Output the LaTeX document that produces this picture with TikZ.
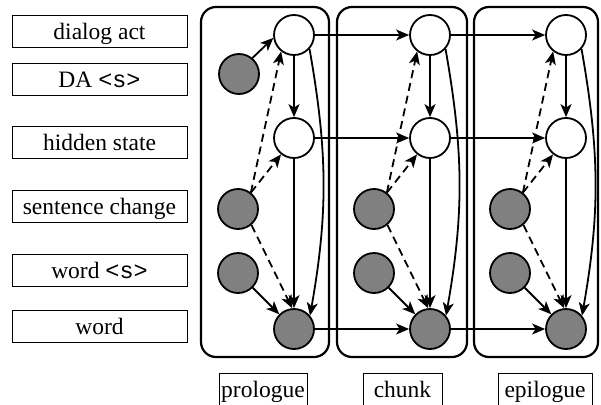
\documentclass[tikz,border=0pt]{standalone}
\usepackage{fontspec}
\setmainfont{Liberation Serif}
\setmonofont{Liberation Mono}
\usetikzlibrary{arrows.meta}
\begin{document}
\begin{tikzpicture}[x=1pt,y=-1pt,
 lab/.style={draw, line width=0.9pt, minimum width=175pt, minimum height=32pt, inner sep=0pt,
   text height=20pt, text depth=4pt, font=\fontsize{23.5}{26}\selectfont},
 obs/.style={circle, draw, line width=1.8pt, fill=gray, minimum size=40pt, inner sep=0pt},
 hid/.style={obs, fill=white},
 plate/.style={draw, line width=2.2pt, rounded corners=15pt, inner sep=0pt},
 arr/.style={-{Stealth[length=13pt,width=11pt,inset=3.5pt]}, line width=1.8pt},
 dsh/.style={arr, dash pattern=on 8pt off 5pt},
]
\useasboundingbox (0,0) rectangle (601,404);
\clip (0,0) rectangle (601,404);
% left labels
\node[lab] (l1) at (99.5,31) {dialog act};
\node[lab] (l2) at (99.5,79) {DA \texttt{<s>}};
\node[lab] (l3) at (99.5,142.5) {hidden state};
\node[lab] (l4) at (99.5,206.5) {sentence change};
\node[lab] (l5) at (99.5,270) {word \texttt{<s>}};
\node[lab] (l6) at (99.5,326) {word};
% bottom labels
\node[lab, minimum width=88pt] (bp) at (263,389) {prologue};
\node[lab, minimum width=79pt] (bc) at (402.5,389) {chunk};
\node[lab, minimum width=94pt] (be) at (545,389) {epilogue};
% plates
\node[plate, minimum width=128pt, minimum height=350pt] (pp) at (265,182) {};
\node[plate, minimum width=130pt, minimum height=350pt] (pc) at (402,182) {};
\node[plate, minimum width=124pt, minimum height=350pt] (pe) at (536,182) {};
% nodes
\node[obs] (da) at (239,74) {};
\foreach \c/\dx in {p/0, c/136, e/272}{
  \node[hid] (t\c) at (294+\dx,35) {};
  \node[hid] (h\c) at (294+\dx,138) {};
  \node[obs] (s\c) at (238+\dx,209) {};
  \node[obs] (ws\c) at (238+\dx,273) {};
  \node[obs] (w\c) at (294+\dx,329) {};
  \draw[arr] (t\c) -- (h\c);
  \draw[arr] (h\c) -- (w\c);
  \draw[arr] (t\c.-42) to[out=-80,in=80] (w\c.40);
  \draw[dsh] (s\c) -- (h\c);
  \draw[dsh] (s\c.52) -- (t\c.-128);
  \draw[dsh] (s\c.-50) -- (w\c.95);
  \draw[arr] (ws\c) -- (w\c);
}
\draw[arr] (da.50) -- (tp.188);
\draw[arr] (tp) -- (tc);
\draw[arr] (tc) -- (te);
\draw[arr] (hp) -- (hc);
\draw[arr] (hc) -- (he);
\draw[arr] (wp) -- (wc);
\draw[arr] (wc) -- (we);
\end{tikzpicture}
\end{document}
